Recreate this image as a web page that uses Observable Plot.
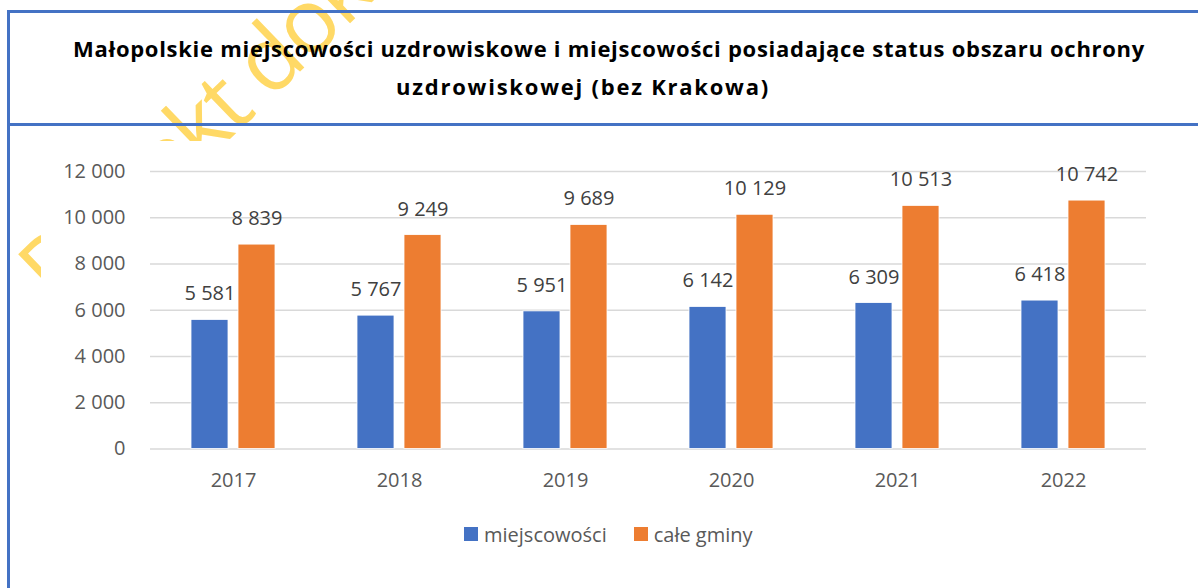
<!DOCTYPE html>
<html><head><meta charset="utf-8">
<script src="https://cdn.jsdelivr.net/npm/d3@7"></script>
<script src="https://cdn.jsdelivr.net/npm/@observablehq/plot@0.6"></script>
<style>
body{margin:0;width:1198px;height:588px;background:#fff;position:relative;overflow:hidden;font-family:"Open Sans",sans-serif;}
#wm{position:absolute;left:0;top:0;font-size:90px;line-height:1;letter-spacing:-3px;color:#FFD966;white-space:nowrap;transform-origin:0 0;transform:translate(1px,249px) rotate(-44deg);z-index:0}
#chart{position:absolute;left:41px;top:141px;z-index:1;background:#fff}
.title{position:absolute;width:1198px;text-align:center;font-weight:700;color:#000;z-index:2;white-space:nowrap;line-height:1}
.line{position:absolute;background:#4472C4;z-index:3}
#legend{position:absolute;left:464px;top:522px;height:24px;display:flex;align-items:center;z-index:2;font-size:20px;color:#595959}
.item{display:flex;align-items:center;margin-right:27px}
.sw{width:14px;height:14px;margin-right:6px}
</style></head>
<body>
<div id="wm">Projekt dokumentu</div>
<div class="line" style="left:7px;top:10px;width:3px;height:578px"></div>
<div class="line" style="left:7px;top:10px;width:1191px;height:3px"></div>
<div class="line" style="left:7px;top:123px;width:1191px;height:3px"></div>
<div class="title" id="t1" style="left:10px;top:36.5px"></div>
<div class="title" id="t2" style="left:-16px;top:74.5px"></div>
<div id="chart"></div>
<div id="legend"></div>
<script>
const titleLines = ["Małopolskie miejscowości uzdrowiskowe i miejscowości posiadające status obszaru ochrony", "uzdrowiskowej (bez Krakowa)"];
const years = ["2017","2018","2019","2020","2021","2022"];
const series = ["miejscowości","całe gminy"];
const miejscowosci = [5581,5767,5951,6142,6309,6418];
const caleGminy = [8839,9249,9689,10129,10513,10742];
const yTicks = [0,2000,4000,6000,8000,10000,12000];
const colors = ["#4472C4","#ED7D31"];

// title sizing: 22px bold, spacing tuned to the reference line widths
const ctx = document.createElement("canvas").getContext("2d");
ctx.font = "700 22px 'Open Sans'";
const targetW = [1072, 374];
["t1","t2"].forEach((id,i)=>{
  const el=document.getElementById(id);
  const w0 = ctx.measureText(titleLines[i]).width;
  el.textContent=titleLines[i]; el.style.fontSize="22px";
  el.style.letterSpacing=((targetW[i]-w0)/titleLines[i].length)+"px";
});

const data = years.flatMap((y,i)=>[
  {year:y, series:series[0], value:miejscowosci[i]},
  {year:y, series:series[1], value:caleGminy[i]}
]);
const fmt = d3.formatLocale({thousands:" ", grouping:[3], decimal:",", currency:["",""]}).format(",d");

const chart = Plot.plot({
  width:1157, height:370,
  marginLeft:107, marginRight:51, marginTop:30, marginBottom:62.5,
  style:{fontFamily:"'Open Sans', sans-serif", fontSize:"20px", color:"#595959", background:"transparent"},
  fx:{domain:years, padding:0, label:null, tickSize:0, tickPadding:24, axis:"bottom"},
  x:{domain:series, paddingInner:0.221, paddingOuter:0.863, axis:null},
  y:{domain:[0,12000], ticks:yTicks, tickFormat:fmt, label:null, tickSize:0, tickPadding:25},
  color:{domain:series, range:colors},
  marks:[
    Plot.gridY(yTicks,{stroke:"#d9d9d9", strokeOpacity:1, strokeWidth:1.5}),
    Plot.barY(data,{fx:"year", x:"series", y:"value", fill:"series", stroke:"#fff", strokeWidth:0.8}),
    Plot.text(data,{fx:"year", x:"series", y:"value", text:d=>fmt(d.value), dy:-26, fill:"#404040", fontSize:20, lineAnchor:"middle"})
  ]
});
document.getElementById("chart").appendChild(chart);

const legend = document.getElementById("legend");
series.forEach((s,i)=>{
  const it=document.createElement("div"); it.className="item";
  const sw=document.createElement("div"); sw.className="sw"; sw.style.background=colors[i];
  const tx=document.createElement("span"); tx.textContent=s;
  it.appendChild(sw); it.appendChild(tx); legend.appendChild(it);
});
</script>
</body></html>
